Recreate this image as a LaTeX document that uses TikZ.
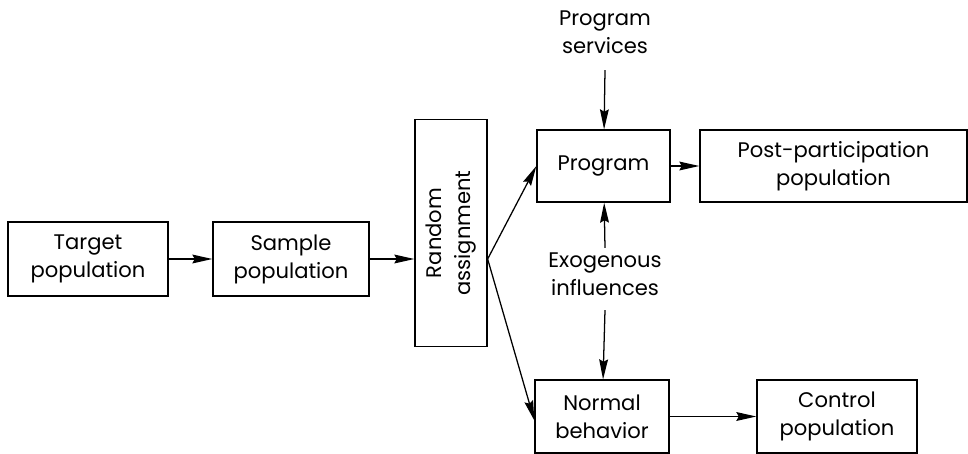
\documentclass[tikz,border=0pt]{standalone}
\usepackage{fontspec}
\setmainfont{Poppins}
\usetikzlibrary{positioning, arrows.meta}

\begin{document}
\begin{tikzpicture}[
    x=0.025cm, y=-0.025cm,
    font=\fontsize{15}{20}\selectfont,
    box/.style={rectangle, draw, line width=0.9pt, align=center, inner sep=0pt},
    label/.style={align=center, inner sep=0pt},
    line width=0.9pt,
    >={Stealth[length=5mm, width=2.2mm, inset=0.6mm]}]

  \useasboundingbox (0,0) rectangle (968,454);

  % Main chain
  \node (target) [box, minimum width=4cm, minimum height=1.85cm] at (88,259) {Target\\population};
  \node (sample) [box, minimum width=3.9cm, minimum height=1.85cm] at (291,259) {Sample\\population};
  \node (rand) [box, rotate=90, minimum width=5.675cm, minimum height=1.8cm] at (451,233) {Random\\assignment};

  % Upper branch
  \node (program) [box, minimum width=3.325cm, minimum height=1.8cm] at (603.5,166) {Program};
  \node (post) [box, minimum width=6.675cm, minimum height=1.8cm] at (833.5,166) {Post-participation\\population};
  \node (services) [label] at (605,32) {Program\\services};

  % Lower branch
  \node (normal) [box, minimum width=3.35cm, minimum height=1.825cm] at (602,416.5) {Normal\\behavior};
  \node (control) [box, minimum width=4cm, minimum height=1.825cm] at (837,416.5) {Control\\population};
  \node (exo) [label] at (605,274) {Exogenous\\influences};

  \coordinate (split) at (rand.south |- sample.east);

  % Arrows
  \draw [->] (target) -- (sample);
  \draw [->] (sample.east) -- (sample.east -| rand.north);
  \draw [->] (split) -- (program.west);
  \draw [->] (split) -- ([yshift=-0.1cm]normal.west);
  \draw [->] (program) -- (post);
  \draw [->] (normal) -- (control);
  \draw [->] ([yshift=-0.4cm]services.south) -- (program);
  \draw [->] ([yshift=0.1cm]exo.north) -- (program);
  \draw [->] ([yshift=-0.35cm]exo.south) -- (normal);
\end{tikzpicture}
\end{document}
